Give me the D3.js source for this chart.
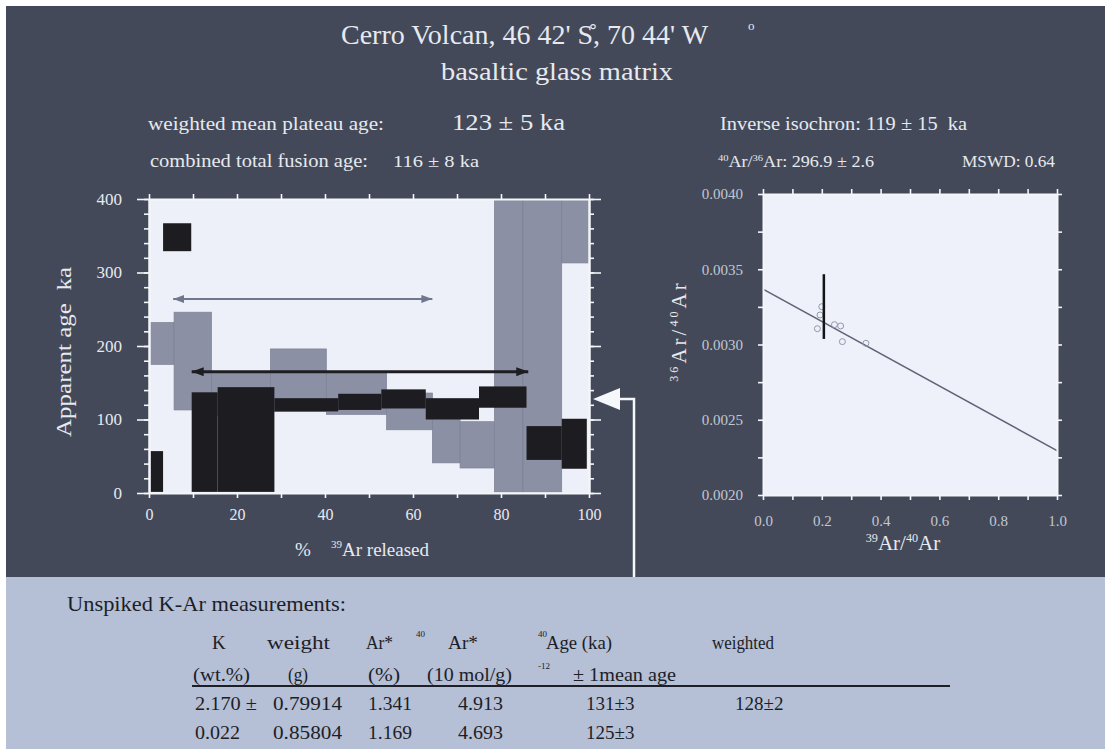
<!DOCTYPE html>
<html>
<head>
<meta charset="utf-8">
<script src="https://cdn.jsdelivr.net/npm/d3@7"></script>
<style>
  html, body { margin: 0; padding: 0; background: #fff; }
  svg { display: block; }
  text { font-family: "Liberation Serif", "Times New Roman", serif; white-space: pre; }
</style>
</head>
<body>
<svg id="chart" width="1105" height="749"></svg>
<script>
// ---- Step-heating spectrum (% 39Ar released vs apparent age, ka) ----
// first heating experiment (grey envelopes)
const grayStepStart = [0, 5.7, 14.2, 27.6, 40.3, 54, 64.4, 70.7, 78.5, 85, 93.8];
const grayStepEnd   = [5.7, 14.2, 27.6, 40.3, 54, 64.4, 70.7, 78.5, 85, 93.8, 100];
const grayAgeLow    = [175, 113, 105, 111, 107, 86, 41, 34, 1.5, 1.5, 313];
const grayAgeHigh   = [232, 246, 164, 196, 164, 136, 100, 97, 520, 560, 600];

// second heating experiment (black envelopes)
const blackStepStart = [0.3, 3.2, 9.7, 15.6, 28.5, 43, 52.8, 62.9, 75, 85.8, 93.8];
const blackStepEnd   = [3.2, 9.6, 15.6, 28.5, 43, 52.8, 62.9, 75, 85.8, 93.8, 99.5];
const blackAgeLow    = [1.5, 329, 1.5, 1.5, 111, 113, 115, 100, 116, 45, 33];
const blackAgeHigh   = [57, 367, 137, 144, 129, 135, 141, 129, 145, 91, 101];

// plateau steps (grey experiment, black experiment)
const plateauFrom = [5.5, 9.7];
const plateauTo   = [64.4, 86.2];
const plateauAge  = [264, 165];

// weighted unspiked K-Ar age (ka)
const kArWeightedAge = 128;

const ageTicks      = [0, 100, 200, 300, 400];
const ageMinorTicks = [0, 20, 40, 60, 80, 100, 120, 140, 160, 180, 200, 220, 240, 260, 280, 300, 320, 340, 360, 380, 400];
const releasedTicks = [0, 10, 20, 30, 40, 50, 60, 70, 80, 90, 100];

// ---- Inverse isochron ----
const isoX = [0.185, 0.194, 0.200, 0.243, 0.264, 0.270, 0.350];
const isoY = [0.003105, 0.003196, 0.003251, 0.003132, 0.003123, 0.003019, 0.003008];
const fitX = [0, 1.0];
const fitY = [0.003368, 0.002295];
const errX = [0.207, 0.207];
const errY = [0.003037, 0.003467];
const ratioTicksY = [0.0020, 0.00225, 0.0025, 0.00275, 0.0030, 0.00325, 0.0035, 0.00375, 0.0040];
const ratioLabelsY = [0.0020, 0.0025, 0.0030, 0.0035, 0.0040];
const ratioTicksX = [0, 0.1, 0.2, 0.3, 0.4, 0.5, 0.6, 0.7, 0.8, 0.9, 1.0];

// ---- Header texts ----
const titleText    = "Cerro Volcan, 46 42' S\u030A, 70 44' W";
const subtitleText = "basaltic glass matrix";
const plateauLabel = "weighted mean plateau age:";
const plateauValue = "123 ± 5 ka";
const fusionLabel  = "combined total fusion age:";
const fusionValue  = "116 ± 8 ka";
const isochronText = "Inverse isochron: 119 ± 15  ka";
const trappedRatio = "Ar: 296.9 ± 2.6";
const mswdText     = "MSWD: 0.64";

// ---- Unspiked K-Ar table ----
const tableTitle = "Unspiked K-Ar measurements:";
const tableHead1 = ["K", "weight", "Ar*", "Ar*", "Age (ka)", "weighted"];
const tableHead2 = ["(wt.%)", "(g)", "(%)", "(10 mol/g)", "± 1mean age"];
const kArRow1    = ["2.170 ±", "0.79914", "1.341", "4.913", "131±3", "128±2"];
const kArRow2    = ["0.022", "0.85804", "1.169", "4.693", "125±3"];

// ================= drawing =================
const svg = d3.select("#chart");
const LIGHT = "#e7e9ef";
const INK = "#1c1e28";

svg.append("rect").attr("width", 1105).attr("height", 749).attr("fill", "#ffffff");
svg.append("rect").attr("x", 6).attr("y", 6).attr("width", 1099).attr("height", 571).attr("fill", "#434959");
svg.append("rect").attr("x", 6).attr("y", 577).attr("width", 1099).attr("height", 172).attr("fill", "#b5bfd5");

const defs = svg.append("defs");
function arrowMarker(id, color, len, half) {
  defs.append("marker").attr("id", id)
    .attr("viewBox", `0 0 ${len} ${half * 2}`)
    .attr("refX", len).attr("refY", half)
    .attr("markerWidth", len).attr("markerHeight", half * 2)
    .attr("markerUnits", "userSpaceOnUse")
    .attr("orient", "auto-start-reverse")
    .append("path").attr("d", `M0,0L${len},${half}L0,${half * 2}Z`).attr("fill", color);
}
arrowMarker("headGray", "#6f778b", 11, 4);
arrowMarker("headBlack", "#1d1d22", 12, 4.5);

// text helper: parts may contain {sup: "..."} pieces
function put(g, parts, x, y, size, opts = {}) {
  const t = g.append("text").attr("x", x).attr("y", y).attr("font-size", size)
    .attr("fill", opts.fill || LIGHT);
  if (opts.anchor) t.attr("text-anchor", opts.anchor);
  if (opts.width) t.attr("textLength", opts.width).attr("lengthAdjust", "spacingAndGlyphs");
  if (opts.rotate) t.attr("transform", `rotate(${opts.rotate},${x},${y})`);
  if (opts.spacing) t.attr("letter-spacing", opts.spacing);
  const list = Array.isArray(parts) ? parts : [parts];
  const shift = size * 0.4;
  let raised = false;
  list.forEach(p => {
    const ts = t.append("tspan");
    if (typeof p === "object") {
      ts.text(p.sup).attr("font-size", size * 0.58).attr("dy", raised ? 0 : -shift);
      raised = true;
    } else {
      ts.text(p).attr("dy", raised ? shift : 0);
      raised = false;
    }
  });
  return t;
}

// ---- header ----
const head = svg.append("g");
put(head, titleText, 341, 44, 28);
put(head, "o", 748, 30, 13);
put(head, subtitleText, 441, 80, 25, { width: 232 });
put(head, plateauLabel, 148, 130, 18, { width: 236 });
put(head, plateauValue, 452, 130, 24, { width: 113 });
put(head, isochronText, 720, 130, 18, { width: 247 });
put(head, fusionLabel, 150, 167, 18, { width: 218 });
put(head, fusionValue, 393, 167, 17, { width: 86 });
put(head, [{ sup: "40" }, "Ar/", { sup: "36" }, trappedRatio], 718, 167, 16, { width: 156 });
put(head, mswdText, 962, 167, 16, { width: 93 });

// ---- age spectrum ----
const xL = d3.scaleLinear().domain([0, 100]).range([149, 589]);
const yL = d3.scaleLinear().domain([0, 400]).range([493, 199]);

defs.append("clipPath").attr("id", "clipL").append("rect")
  .attr("x", xL(0)).attr("y", yL(400)).attr("width", xL(100) - xL(0)).attr("height", yL(0) - yL(400));

const gL = svg.append("g");
gL.append("rect").attr("x", xL(0)).attr("y", yL(400))
  .attr("width", xL(100) - xL(0)).attr("height", yL(0) - yL(400)).attr("fill", "#edf0f8");

const boxes = gL.append("g").attr("clip-path", "url(#clipL)");
boxes.selectAll("rect.gray").data(d3.range(grayStepStart.length)).join("rect")
  .attr("class", "gray")
  .attr("x", i => xL(grayStepStart[i]))
  .attr("width", i => xL(grayStepEnd[i]) - xL(grayStepStart[i]))
  .attr("y", i => yL(grayAgeHigh[i]))
  .attr("height", i => yL(grayAgeLow[i]) - yL(grayAgeHigh[i]))
  .attr("fill", "#8b90a4").attr("stroke", "#7c8195").attr("stroke-width", 0.7);

boxes.selectAll("rect.black").data(d3.range(blackStepStart.length)).join("rect")
  .attr("class", "black")
  .attr("x", i => xL(blackStepStart[i]))
  .attr("width", i => xL(blackStepEnd[i]) - xL(blackStepStart[i]))
  .attr("y", i => yL(blackAgeHigh[i]))
  .attr("height", i => yL(blackAgeLow[i]) - yL(blackAgeHigh[i]))
  .attr("fill", "#1d1d21");

// plateau arrows
const plateauStyle = [["#6f778b", 2, "headGray"], ["#1d1d22", 3, "headBlack"]];
plateauFrom.forEach((f, i) => {
  gL.append("line")
    .attr("x1", xL(f)).attr("x2", xL(plateauTo[i]))
    .attr("y1", yL(plateauAge[i])).attr("y2", yL(plateauAge[i]))
    .attr("stroke", plateauStyle[i][0]).attr("stroke-width", plateauStyle[i][1])
    .attr("marker-start", `url(#${plateauStyle[i][2]})`)
    .attr("marker-end", `url(#${plateauStyle[i][2]})`);
});

function styleAxis(g, fs, color) {
  g.select(".domain").attr("stroke", "#f4f5f8").attr("stroke-width", 2);
  g.selectAll(".tick line").attr("stroke", "#f4f5f8").attr("stroke-width", 1.6);
  g.selectAll(".tick text").attr("fill", color).attr("font-size", fs)
    .attr("font-family", "Liberation Serif, serif");
}

// y axes (left and right), minor + major ticks
[[d3.axisLeft, xL(0)], [d3.axisRight, xL(100)]].forEach(([ax, tx], k) => {
  const minor = gL.append("g").attr("transform", `translate(${tx},0)`)
    .call(ax(yL).tickValues(ageMinorTicks).tickSize(5).tickSizeOuter(0).tickFormat(""));
  styleAxis(minor, 17, LIGHT);
  const major = gL.append("g").attr("transform", `translate(${tx},0)`)
    .call(ax(yL).tickValues(ageTicks).tickSize(12).tickSizeOuter(0).tickPadding(15)
      .tickFormat(k === 0 ? d3.format("d") : ""));
  styleAxis(major, 17, LIGHT);
});
const xb = gL.append("g").attr("transform", `translate(0,${yL(0)})`)
  .call(d3.axisBottom(xL).tickValues(releasedTicks).tickSize(5).tickSizeOuter(0).tickPadding(11)
    .tickFormat(d => d % 20 === 0 ? d : ""));
styleAxis(xb, 16, LIGHT);
const xt = gL.append("g").attr("transform", `translate(0,${yL(400)})`)
  .call(d3.axisTop(xL).tickValues(releasedTicks).tickSize(5).tickSizeOuter(0).tickFormat(""));
styleAxis(xt, 16, LIGHT);

put(gL, "Apparent age  ka", 71, 352, 22, { anchor: "middle", rotate: -90, width: 170 });
put(gL, "%", 295, 556, 19);
put(gL, [{ sup: "39" }, "Ar released"], 331, 556, 19);

// arrow marking the unspiked K-Ar age
const ay = yL(kArWeightedAge);
gL.append("path")
  .attr("d", `M${xL(100) + 31},${ay}H${xL(100) + 45}V577`)
  .attr("fill", "none").attr("stroke", "#f6f7fa").attr("stroke-width", 2.5);
gL.append("path")
  .attr("d", `M${xL(100) + 4},${ay}L${xL(100) + 31},${ay - 11}L${xL(100) + 31},${ay + 11}Z`)
  .attr("fill", "#f6f7fa");

// ---- inverse isochron ----
const xR = d3.scaleLinear().domain([0, 1]).range([763, 1057]);
const yR = d3.scaleLinear().domain([0.002, 0.004]).range([495, 194]);
const gR = svg.append("g");
gR.append("rect").attr("x", xR(0)).attr("y", yR(0.004))
  .attr("width", xR(1) - xR(0)).attr("height", yR(0.002) - yR(0.004)).attr("fill", "#eef1f9");

gR.append("path")
  .attr("d", d3.line().x((d, i) => xR(fitX[i])).y((d, i) => yR(fitY[i]))(fitX))
  .attr("fill", "none").attr("stroke", "#5d6476").attr("stroke-width", 1.6);

gR.selectAll("circle").data(d3.range(isoX.length)).join("circle")
  .attr("cx", i => xR(isoX[i])).attr("cy", i => yR(isoY[i])).attr("r", 3)
  .attr("fill", "none").attr("stroke", "#9097ad").attr("stroke-width", 1);

gR.append("line")
  .attr("x1", xR(errX[0])).attr("x2", xR(errX[1]))
  .attr("y1", yR(errY[0])).attr("y2", yR(errY[1]))
  .attr("stroke", "#141418").attr("stroke-width", 2.5);

const RLAB = "#c3c7d1";
const yRl = gR.append("g").attr("transform", `translate(${xR(0)},0)`)
  .call(d3.axisLeft(yR).tickValues(ratioTicksY).tickSize(5).tickSizeOuter(0).tickPadding(15)
    .tickFormat(d => ratioLabelsY.some(v => Math.abs(v - d) < 1e-9) ? d3.format(".4f")(d) : ""));
styleAxis(yRl, 15, RLAB);
const yRr = gR.append("g").attr("transform", `translate(${xR(1)},0)`)
  .call(d3.axisRight(yR).tickValues(ratioTicksY).tickSize(5).tickSizeOuter(0).tickFormat(""));
styleAxis(yRr, 15, RLAB);
const xRb = gR.append("g").attr("transform", `translate(0,${yR(0.002)})`)
  .call(d3.axisBottom(xR).tickValues(ratioTicksX).tickSize(5).tickSizeOuter(0).tickPadding(15)
    .tickFormat((d, i) => i % 2 === 0 ? d3.format(".1f")(d) : ""));
styleAxis(xRb, 15, RLAB);
const xRt = gR.append("g").attr("transform", `translate(0,${yR(0.004)})`)
  .call(d3.axisTop(xR).tickValues(ratioTicksX).tickSize(5).tickSizeOuter(0).tickFormat(""));
styleAxis(xRt, 15, RLAB);

put(gR, [{ sup: "36" }, "Ar/", { sup: "40" }, "Ar"], 686, 331, 21, { anchor: "middle", rotate: -90, spacing: 3 });
put(gR, [{ sup: "39" }, "Ar/", { sup: "40" }, "Ar"], 903, 550, 21, { anchor: "middle" });

// ---- K-Ar table ----
const gT = svg.append("g");
put(gT, tableTitle, 67, 611, 21, { fill: INK, width: 279 });

const head1X = [212, 267, 366, 448, 546, 712];
const head1W = [0, 63, 27, 30, 66, 62];
tableHead1.forEach((s, i) => put(gT, s, head1X[i], 649, 19, { fill: INK, width: head1W[i] || null }));
put(gT, "40", 416, 637, 9, { fill: INK });
put(gT, "40", 538, 637, 9, { fill: INK });

const head2X = [193, 288, 368, 427, 573];
const head2W = [57, 20, 32, 85, 103];
tableHead2.forEach((s, i) => put(gT, s, head2X[i], 681, 19, { fill: INK, width: head2W[i] }));
put(gT, "-12", 538, 669, 9, { fill: INK });

gT.append("line").attr("x1", 192).attr("x2", 950).attr("y1", 686).attr("y2", 686)
  .attr("stroke", INK).attr("stroke-width", 2);

const rowX = [195, 273, 368, 458, 586, 735];
const rowW = [62, 69, 44, 45, 0, 0];
kArRow1.forEach((s, i) => put(gT, s, rowX[i], 710, 19, { fill: INK, width: rowW[i] || null }));
kArRow2.forEach((s, i) => put(gT, s, rowX[i], 739, 19, { fill: INK, width: i === 0 ? 45 : (rowW[i] || null) }));
</script>
</body>
</html>
